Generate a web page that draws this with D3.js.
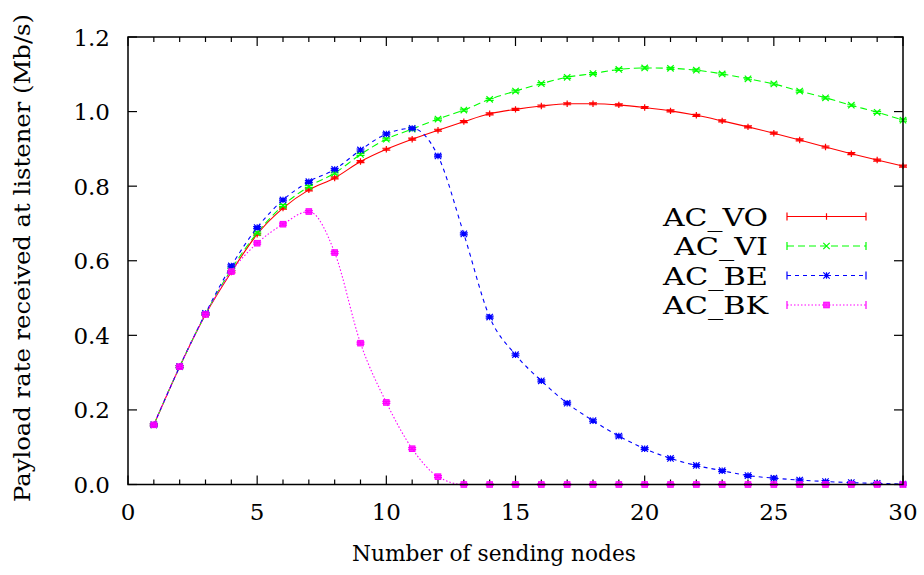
<!DOCTYPE html>
<html><head><meta charset="utf-8">
<script src="https://d3js.org/d3.v7.min.js"></script>
<style>body{margin:0;background:#fff}svg{display:block}text{font-family:"DejaVu Serif","Liberation Serif",serif;fill:#000}</style>
</head><body><svg id="c" width="924" height="575"></svg>
<script>
const nodes = d3.range(1, 31);
const seriesNames = ["AC_VO", "AC_VI", "AC_BE", "AC_BK"];
const acVO = [0.160,0.316,0.456,0.570,0.671,0.741,0.790,0.822,0.866,0.899,0.926,0.950,0.973,0.994,1.006,1.015,1.021,1.021,1.018,1.011,1.002,0.990,0.975,0.959,0.942,0.924,0.905,0.887,0.870,0.854];
const acVI = [0.160,0.316,0.457,0.577,0.675,0.748,0.799,0.835,0.885,0.926,0.953,0.980,1.004,1.033,1.055,1.075,1.092,1.102,1.113,1.117,1.116,1.111,1.101,1.088,1.074,1.055,1.037,1.017,0.998,0.977];
const acBE = [0.160,0.316,0.459,0.586,0.689,0.763,0.812,0.845,0.897,0.940,0.955,0.881,0.672,0.449,0.348,0.278,0.218,0.171,0.130,0.096,0.070,0.051,0.037,0.024,0.017,0.012,0.008,0.005,0.003,0.001];
const acBK = [0.160,0.316,0.456,0.571,0.647,0.698,0.732,0.622,0.379,0.220,0.096,0.021,0,0,0,0,0,0,0,0,0,0,0,0,0,0,0,0,0,0];
const xTicks = [0,5,10,15,20,25,30];
const yTicks = [0,0.2,0.4,0.6,0.8,1.0,1.2];
const xTitle = "Number of sending nodes";
const yTitle = "Payload rate received at listener (Mb/s)";

const colors = ["#ff0000","#00ff00","#0000ff","#ff00ff"];
const dashes = [null,"7,4","4,4","1.5,2"];
const markers = ["plus","cross","star","square"];
const allVals = [acVO, acVI, acBE, acBK];

const svg = d3.select("#c");
const L = 128, R = 903, T = 37, B = 484.5;
const x = d3.scaleLinear().domain([0,30]).range([L,R]);
const y = d3.scaleLinear().domain([0,1.2]).range([B,T]);

const g = svg.append("g");
d3.range(0,31).forEach(v=>{
  const len = v%5===0 ? 9 : 5;
  g.append("line").attr("x1",x(v)).attr("x2",x(v)).attr("y1",B).attr("y2",B-len).attr("stroke","#000").attr("stroke-width",1.2);
  g.append("line").attr("x1",x(v)).attr("x2",x(v)).attr("y1",T).attr("y2",T+len).attr("stroke","#000").attr("stroke-width",1.2);
});
yTicks.forEach(v=>{
  g.append("line").attr("x1",L).attr("x2",L+9).attr("y1",y(v)).attr("y2",y(v)).attr("stroke","#000").attr("stroke-width",1.2);
  g.append("line").attr("x1",R).attr("x2",R-9).attr("y1",y(v)).attr("y2",y(v)).attr("stroke","#000").attr("stroke-width",1.2);
});
xTicks.forEach(v=>{
  g.append("text").attr("x",x(v)).attr("y",520).attr("text-anchor","middle").attr("font-size",23).text(v);
});
yTicks.forEach(v=>{
  g.append("text").attr("x",110).attr("y",y(v)+8.5).attr("text-anchor","end").attr("font-size",23).text(v.toFixed(1));
});
svg.append("text").attr("x",(352+636)/2).attr("y",561).attr("text-anchor","middle").attr("font-size",22)
  .attr("textLength",284).attr("lengthAdjust","spacingAndGlyphs").text(xTitle);
svg.append("text").attr("transform","translate(30,258) rotate(-90)").attr("text-anchor","middle").attr("font-size",22)
  .attr("textLength",488).attr("lengthAdjust","spacingAndGlyphs").text(yTitle);

function drawMarker(sel, type, cx, cy, color){
  const s = 3.2;
  if(type==="plus"){
    sel.append("path").attr("d",`M${cx-s},${cy}H${cx+s}M${cx},${cy-s}V${cy+s}`).attr("stroke",color).attr("stroke-width",1.2);
  } else if(type==="cross"){
    sel.append("path").attr("d",`M${cx-s},${cy-s}L${cx+s},${cy+s}M${cx-s},${cy+s}L${cx+s},${cy-s}`).attr("stroke",color).attr("stroke-width",1.2);
  } else if(type==="star"){
    sel.append("path").attr("d",`M${cx-s},${cy}H${cx+s}M${cx},${cy-s}V${cy+s}M${cx-s},${cy-s}L${cx+s},${cy+s}M${cx-s},${cy+s}L${cx+s},${cy-s}`).attr("stroke",color).attr("stroke-width",1.2);
    sel.append("circle").attr("cx",cx).attr("cy",cy).attr("r",2).attr("fill",color);
  } else {
    sel.append("rect").attr("x",cx-2.8).attr("y",cy-2.8).attr("width",5.6).attr("height",5.6).attr("fill",color).attr("fill-opacity",0.8).attr("stroke",color);
  }
}

const plot = svg.append("g");
const line = d3.line().x(d=>x(d[0])).y(d=>y(d[1])).curve(d3.curveMonotoneX);
allVals.forEach((vals,i)=>{
  const data = nodes.map((n,k)=>[n, vals[k]]);
  plot.append("path").datum(data).attr("d",line).attr("fill","none").attr("stroke",colors[i]).attr("stroke-width",1.1)
    .attr("stroke-dasharray",dashes[i]);
  data.forEach(d=>{
    const cx = x(d[0]), cy = y(d[1]);
    plot.append("path").attr("d",`M${cx-4},${cy-1}H${cx+4}M${cx-4},${cy+1}H${cx+4}M${cx},${cy-1}V${cy+1}`).attr("stroke",colors[i]).attr("stroke-width",1.2);
    drawMarker(plot, markers[i], cx, cy, colors[i]);
  });
});

svg.append("rect").attr("x",L).attr("y",T).attr("width",R-L).attr("height",B-T).attr("fill","none").attr("stroke","#000").attr("stroke-width",1.5);

const legY = [216.5, 246, 275.5, 305];
seriesNames.forEach((nm,i)=>{
  const ly = legY[i];
  svg.append("text").attr("x",768).attr("y",ly+9).attr("text-anchor","end").attr("font-size",24)
    .attr("textLength",i===1?94:105).attr("lengthAdjust","spacingAndGlyphs").text(nm);
  svg.append("line").attr("x1",787).attr("x2",866).attr("y1",ly).attr("y2",ly).attr("stroke",colors[i]).attr("stroke-width",1.1).attr("stroke-dasharray",dashes[i]);
  [787,866].forEach(ex=>svg.append("line").attr("x1",ex).attr("x2",ex).attr("y1",ly-4).attr("y2",ly+4).attr("stroke",colors[i]).attr("stroke-width",1.2));
  drawMarker(svg, markers[i], 826.5, ly, colors[i]);
});
</script></body></html>
